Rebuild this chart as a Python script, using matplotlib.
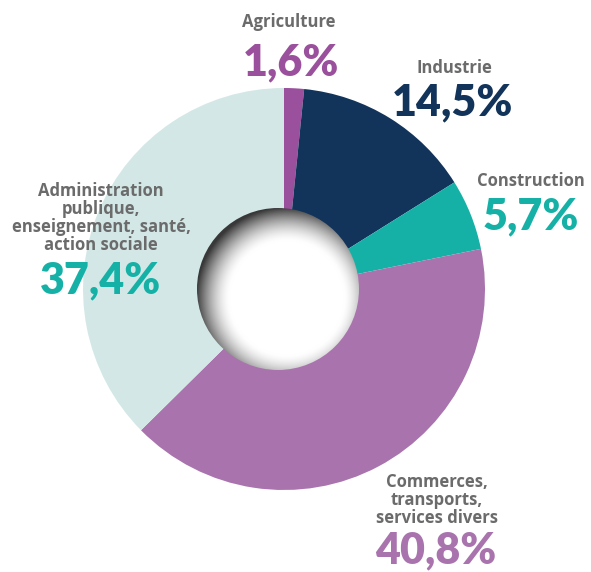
import numpy as np
import matplotlib
matplotlib.use("Agg")
import matplotlib.pyplot as plt
from matplotlib.patches import Circle

# secteurs, dans l'ordre horaire depuis midi
labels = ["Agriculture", "Industrie", "Construction",
          "Commerces,\ntransports,\nservices divers",
          "Administration\npublique,\nenseignement, santé,\naction sociale"]
shares = [1.6, 14.5, 5.7, 40.8, 37.4]
pct_text = ["1,6%", "14,5%", "5,7%", "40,8%", "37,4%"]
wedge_colors = ["#9a509c", "#12335a", "#15b1a7", "#a973ae", "#d3e8e6"]
pct_colors = ["#9a509c", "#12335a", "#15b1a7", "#a973ae", "#15b1a7"]

W, H = 591, 572
fig = plt.figure(figsize=(W / 100, H / 100), dpi=100)
ax = fig.add_axes([0, 0, 1, 1])

cx, cy, R = 284, H - 289, 201
ax.pie(shares, colors=wedge_colors, startangle=90, counterclock=False,
       center=(cx, cy), radius=R, frame=True,
       wedgeprops=dict(linewidth=0))
ax.set_xlim(0, W)
ax.set_ylim(0, H)
ax.set_aspect("equal")
ax.axis("off")

# trou central avec ombre interne
hx, hy, hr = 278, H - 289, 81
n = 400
xs = np.linspace(hx - hr, hx + hr, n)
ys = np.linspace(hy - hr, hy + hr, n)
X, Y = np.meshgrid(xs, ys)
sx, sy = hx + 9, hy - 9
d = np.sqrt((X - sx) ** 2 + (Y - sy) ** 2)
t = np.clip((d - (hr - 24)) / 34, 0, 1)
shade = 1 - 0.78 * t ** 1.6
img = np.dstack([shade, shade, shade])
im = ax.imshow(img, extent=[hx - hr, hx + hr, hy - hr, hy + hr],
               origin="lower", zorder=3, interpolation="bilinear")
clip = Circle((hx, hy), hr, transform=ax.transData)
im.set_clip_path(clip)

grey = "#6b6b6b"
name_pos = [(289, 22), (454, 68), (531, 181), (437, 500), (101, 218)]
pct_pos = [(291, 62), (453, 102), (531, 216), (436, 550), (101, 280)]
for i in range(len(labels)):
    nx, ny = name_pos[i]
    ax.text(nx, H - ny, labels[i], ha="center", va="center", color=grey,
            fontsize=12, fontweight="bold", family="Open Sans",
            linespacing=1.0)
    px, py = pct_pos[i]
    ax.text(px, H - py, pct_text[i], ha="center", va="center",
            color=pct_colors[i], fontsize=31, fontweight="heavy",
            family="Lato")

fig.savefig("out.png", dpi=100)
